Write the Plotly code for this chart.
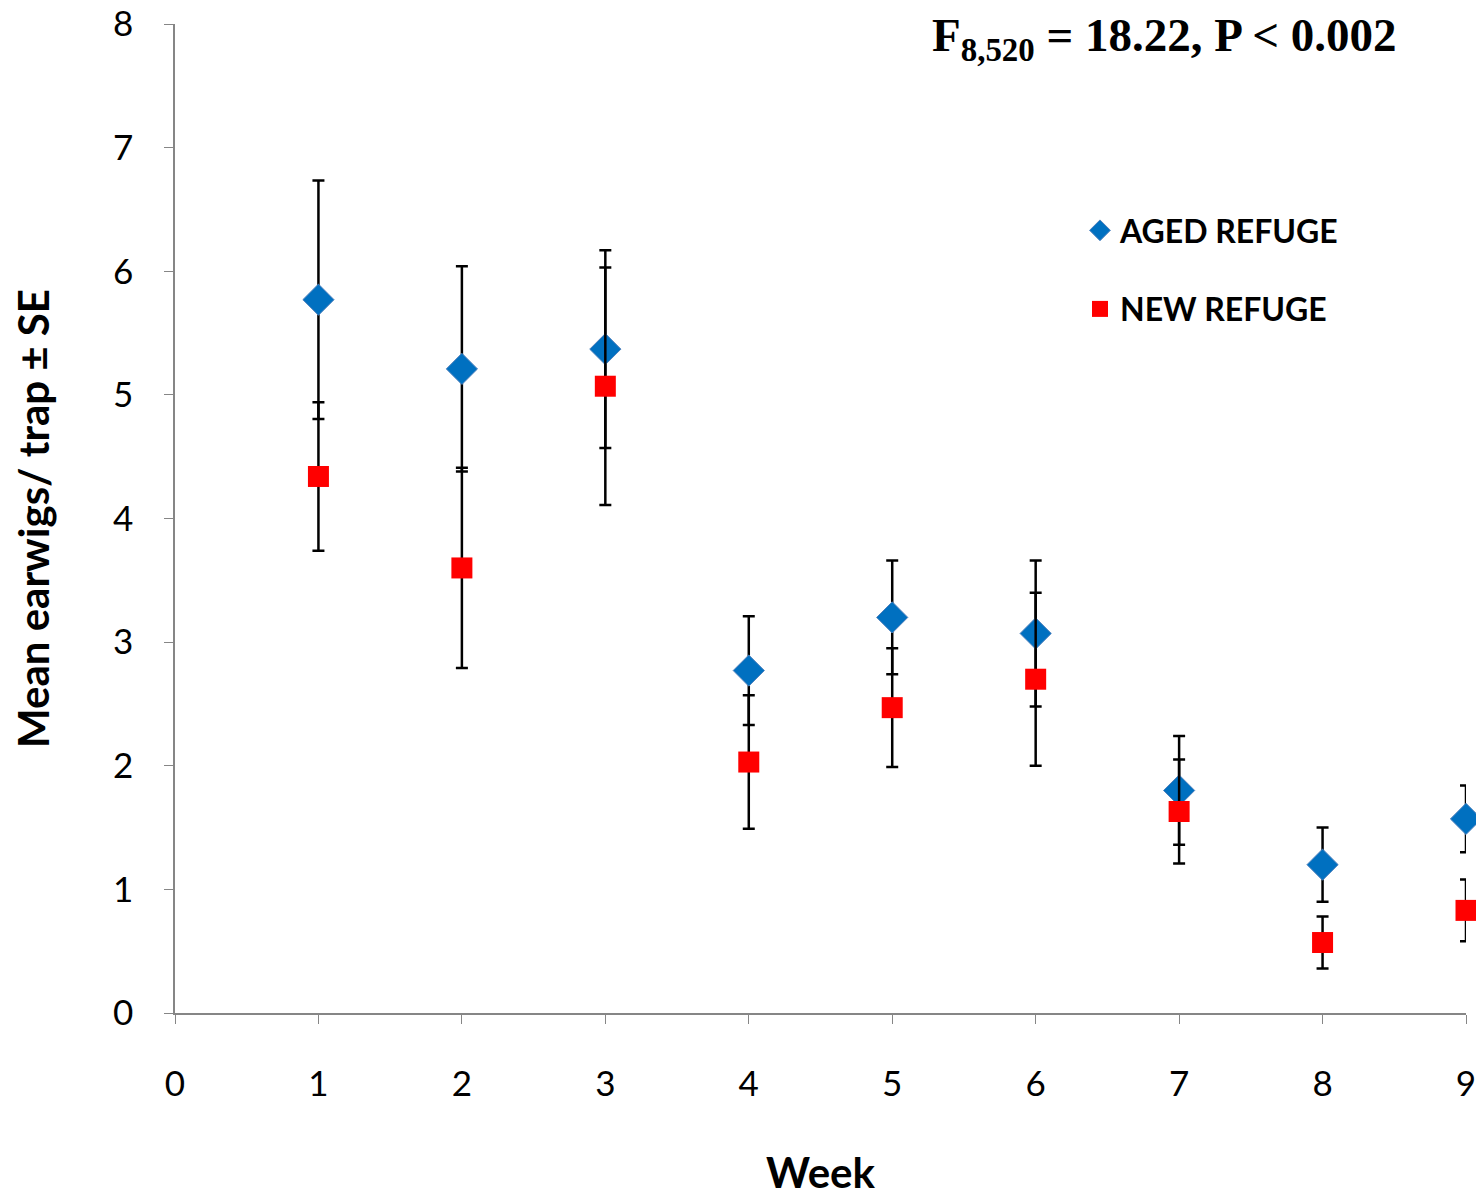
import plotly.graph_objects as go

weeks = [1, 2, 3, 4, 5, 6, 7, 8, 9]
aged_mean = [5.77, 5.21, 5.37, 2.77, 3.20, 3.07, 1.80, 1.20, 1.57]
aged_se = [0.965, 0.83, 0.80, 0.44, 0.46, 0.59, 0.44, 0.30, 0.27]
new_mean = [4.34, 3.60, 5.07, 2.03, 2.47, 2.70, 1.63, 0.57, 0.83]
new_se = [0.60, 0.81, 0.96, 0.54, 0.48, 0.70, 0.42, 0.21, 0.25]
x_ticks = [0, 1, 2, 3, 4, 5, 6, 7, 8, 9]
y_ticks = [0, 1, 2, 3, 4, 5, 6, 7, 8]

FONT = "Lato"

fig = go.Figure()
fig.add_trace(go.Scatter(
    x=weeks, y=aged_mean, mode="markers", name="AGED REFUGE", legendgroup="a",
    marker=dict(symbol="diamond", size=24, color="#0070C0",
                line=dict(color="#4F81BD", width=1)),
    error_y=dict(type="data", array=aged_se, visible=True, color="black",
                 thickness=2.5, width=6),
    cliponaxis=False,
))
fig.add_trace(go.Scatter(
    x=weeks, y=new_mean, mode="markers", name="NEW REFUGE", legendgroup="b",
    marker=dict(symbol="square", size=21, color="#FF0000"),
    error_y=dict(type="data", array=new_se, visible=True, color="black",
                 thickness=2.5, width=6),
    cliponaxis=False,
))

fig.update_layout(
    width=1484, height=1197,
    paper_bgcolor="white", plot_bgcolor="white",
    margin=dict(l=167, r=26, t=16, b=192, autoexpand=False),
    font=dict(family=FONT, size=34, color="black"),
    showlegend=True,
    legend=dict(x=0.701, y=0.819, xanchor="left", yanchor="top",
                font=dict(family=FONT, size=32, color="black", weight="bold"),
                tracegroupgap=34, bgcolor="rgba(0,0,0,0)", itemwidth=30),
    xaxis=dict(range=[0, 9], tickvals=x_ticks, ticktext=[str(v) for v in x_ticks],
               showgrid=False, zeroline=False, showline=True, linecolor="#868686",
               linewidth=1.5, ticks="outside", ticklen=9, tickcolor="#868686",
               tickfont=dict(family=FONT, size=35), automargin=False,
               ticklabelstandoff=30, ticklabeloverflow="allow",
               title=dict(text="<b>Week</b>", font=dict(family=FONT, size=42),
                          standoff=57)),
    yaxis=dict(range=[0, 8], tickvals=y_ticks, ticktext=[str(v) for v in y_ticks],
               showgrid=False, zeroline=False, showline=True, linecolor="#868686",
               linewidth=1.5, ticks="outside", ticklen=9, tickcolor="#868686",
               tickfont=dict(family=FONT, size=35), automargin=False,
               ticklabelstandoff=24, ticklabeloverflow="allow",
               title=dict(text="<b>Mean earwigs/ trap ± SE</b>",
                          font=dict(family=FONT, size=42), standoff=62)),
)

fig.add_annotation(
    x=0.947, y=1.0, xref="paper", yref="paper", xanchor="right", yanchor="middle",
    text="<b>F<sub>8,520</sub> = 18.22, P < 0.002</b>", showarrow=False,
    font=dict(family="Liberation Serif", size=47, color="black"),
    yshift=-14,
)

fig.write_html("out.html")
